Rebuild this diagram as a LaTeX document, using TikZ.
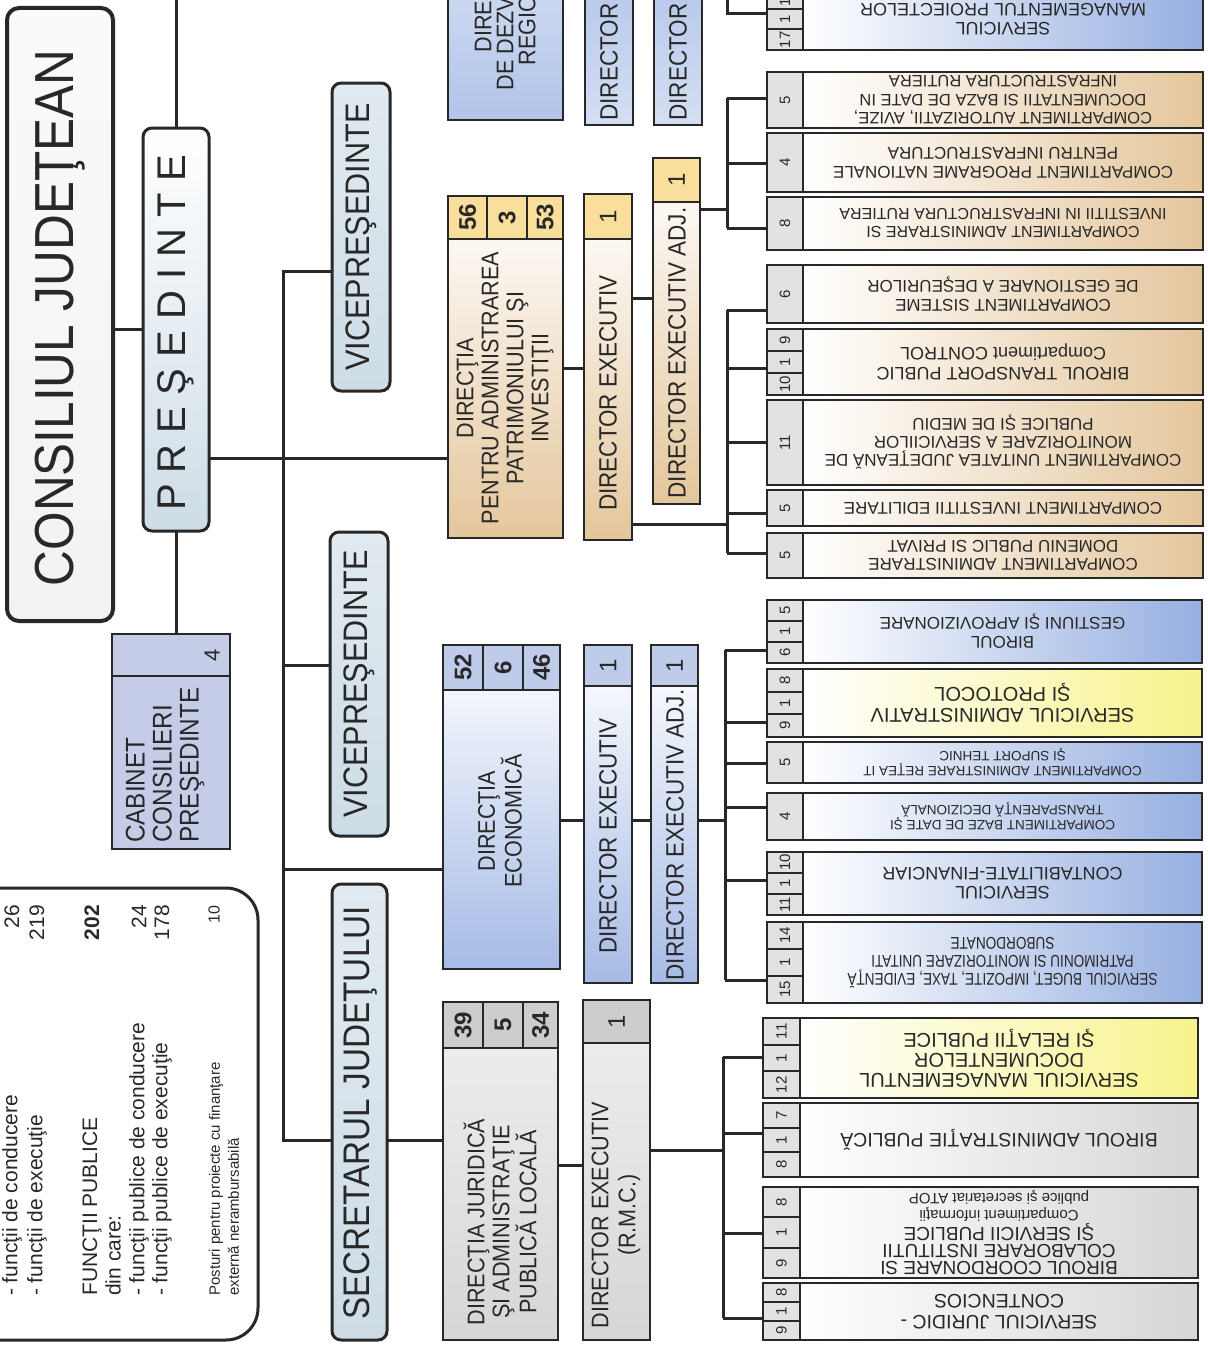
\documentclass[tikz,border=0pt]{standalone}
\usepackage{fontspec}
\setmainfont{Liberation Sans}
\newfontfamily\nar[FakeStretch=0.9]{Liberation Sans}
\newfontfamily\narr[FakeStretch=0.8]{Liberation Sans}
\pgfdeclarelayer{bg}
\pgfsetlayers{bg,main}
\definecolor{ink}{RGB}{40,40,40}
\definecolor{ctan}{RGB}{228,198,156}
\definecolor{cblue}{RGB}{150,175,225}
\definecolor{cyel}{RGB}{247,243,140}
\definecolor{cgray}{RGB}{214,214,214}
\definecolor{hyel}{RGB}{250,222,155}
\definecolor{hblue}{RGB}{190,204,234}
\definecolor{hgray}{RGB}{205,205,205}
\definecolor{ccell}{RGB}{226,226,226}
\definecolor{vblue}{RGB}{205,220,230}
\definecolor{cabb}{RGB}{196,204,232}
\newcommand\fs[2]{\fontsize{#1}{#2}\selectfont}
\newcommand\bx[6]{%
  \pgfmathsetmacro\mycx{(#2+#4)/2}\pgfmathsetmacro\mycy{(#3+#5)/2}%
  \pgfmathsetmacro\mybw{abs(#4-#2)}\pgfmathsetmacro\mybh{abs(#5-#3)}%
  \node[#6,minimum width=\mybw pt,minimum height=\mybh pt,inner sep=0pt,outer sep=0pt] (#1) at (\mycx,\mycy) {};}
% one number cell: name, y1, y2, colour, number, font, text
\newcommand\rA[7]{%
  \bx{#1}{\XD}{#2}{\XR}{#3}{sbox,left color=white,right color=#4}%
  \bx{#1c1}{\XL}{#2}{\XD}{#3}{sbox,fill=ccell}%
  \node[nlbl] (#1n1) at (#1c1.center) {#5};
  \node[ulbl,font=#6] (#1t) at (#1.center) {#7};}
% three number cells (bottom to top)
\newcommand\rC[7]{%
  \bx{#1}{\XD}{#2}{\XR}{#3}{sbox,left color=white,right color=#4}%
  \pgfmathsetmacro\mych{(#3-#2)/3}%
  \foreach \nn [count=\ii] in {#5}{%
    \pgfmathsetmacro\mya{#3-\ii*\mych}\pgfmathsetmacro\myb{#3-(\ii-1)*\mych}%
    \bx{#1c\ii}{\XL}{\mya}{\XD}{\myb}{sbox,fill=ccell}%
    \node[nlbl] (#1n\ii) at (#1c\ii.center) {\nn};}%
  \node[ulbl,font=#6] (#1t) at (#1.center) {#7};}
\begin{document}
\begin{tikzpicture}[x=1pt,y=-1pt,
  conn/.style={draw=ink,line width=3pt},
  sbox/.style={draw=ink,line width=2pt},
  rbox/.style={draw=ink,line width=3pt,rounded corners=9pt},
  lbl/.style={rotate=90,align=center,inner sep=0pt,text=ink},
  ulbl/.style={rotate=180,align=center,inner sep=0pt,text=ink},
  nlbl/.style={rotate=90,inner sep=0pt,font=\fs{15}{16},text=ink},
  hnum/.style={rotate=90,inner sep=0pt,font=\bfseries\fs{24}{26},text=ink},
  dnum/.style={rotate=90,inner sep=0pt,font=\fs{24}{26},text=ink},
  legt/.style={rotate=90,anchor=west,inner sep=0pt,align=left,text=ink,font=\fs{21}{24}},
  legn/.style={rotate=90,anchor=east,inner sep=0pt,text=ink,font=\fs{21}{24}}]
\useasboundingbox (0,0) rectangle (1207,1346);
\clip (0,0) rectangle (1207,1346);

% ---------- left part ----------
\bx{cj}{7}{8}{113}{621}{rbox,line width=4pt,rounded corners=12pt,top color=gray!4,bottom color=gray!10}
\node[lbl,font=\nar\fs{55}{60}] (cjt) at (60,318) {CONSILIUL JUDEŢEAN};
\bx{pres}{143}{128}{209}{531}{rbox,top color=white,bottom color=vblue}
\node[lbl,font=\fs{40}{44}] (prest) at (176,333) {P R E Ş E D I N T E};
\bx{cab}{112}{634}{230}{849}{sbox,fill=cabb}
\bx{cabh}{112}{634}{230}{676}{sbox,fill=cabb}
\node[lbl,font=\fs{22}{24}] (cab4) at (212,655) {4};
\node[lbl,align=left,anchor=west,font=\nar\fs{27}{27}] (cabt) at (165,843) {CABINET\\CONSILIERI\\PREŞEDINTE};

\bx{leg}{-40}{888}{258}{1340}{rbox,rounded corners=32pt,fill=white}
\node[legt] (l1) at (12,1296) {- funcţii de conducere};
\node[legt] (l2) at (37,1296) {- funcţii de execuţie};
\node[legt] (l3) at (92,1296) {FUNCŢII PUBLICE};
\node[legt] (l4) at (113,1296) {din care:};
\node[legt] (l5) at (139,1296) {- funcţii publice de conducere};
\node[legt] (l6) at (162,1296) {- funcţii publice de execuţie};
\node[legt,font=\fs{15}{19}] (l7) at (224,1296) {Posturi pentru proiecte cu finanţare\\externă nerambursabilă};
\node[legn] (n1) at (12,905) {26};
\node[legn] (n2) at (37,905) {219};
\node[legn,font=\bfseries\fs{21}{24}] (n3) at (92,905) {202};
\node[legn] (n5) at (139,905) {24};
\node[legn] (n6) at (162,905) {178};
\node[legn,font=\fs{16}{18}] (n7) at (214,905) {10};

\bx{vice1}{332}{83}{390}{391}{rbox,top color=white!40!vblue,bottom color=vblue}
\node[lbl,font=\nar\fs{34}{36}] (vice1t) at (361,237) {VICEPREŞEDINTE};
\bx{vice2}{330}{532}{388}{836}{rbox,top color=white!40!vblue,bottom color=vblue}
\node[lbl,font=\nar\fs{34}{36}] (vice2t) at (359,684) {VICEPREŞEDINTE};
\bx{sec}{332}{884}{387}{1340}{rbox,top color=white!40!vblue,bottom color=vblue}
\node[lbl,font=\nar\fs{37}{40}] (sect) at (360,1113) {SECRETARUL JUDEŢULUI};

% directions
\bx{dezv}{448}{-20}{563}{120}{sbox,top color=cblue!45,bottom color=cblue!75}
\node[lbl,font=\nar\fs{24}{22}] (dezvt) at (505,2) {DIRECŢIA\\DE DEZVOLTARE\\REGIONALĂ};
\bx{patr}{448}{196}{563}{538}{sbox,top color=white,bottom color=ctan}
\bx{patrh1}{448}{196}{487}{239}{sbox,fill=hyel}
\bx{patrh2}{487}{196}{527}{239}{sbox,fill=hyel}
\bx{patrh3}{527}{196}{563}{239}{sbox,fill=hyel}
\node[hnum] (patrn1) at (patrh1.center) {56};
\node[hnum] (patrn2) at (patrh2.center) {3};
\node[hnum] (patrn3) at (patrh3.center) {53};
\node[lbl,font=\nar\fs{24}{25}] (patrt) at (505,388) {DIRECŢIA\\PENTRU ADMINISTRAREA\\PATRIMONIULUI ŞI\\INVESTIŢII};

\bx{econ}{443}{645}{560}{969}{sbox,top color=white,bottom color=cblue!85}
\bx{econh1}{443}{645}{483}{690}{sbox,fill=hblue}
\bx{econh2}{483}{645}{523}{690}{sbox,fill=hblue}
\bx{econh3}{523}{645}{560}{690}{sbox,fill=hblue}
\node[hnum] (econn1) at (econh1.center) {52};
\node[hnum] (econn2) at (econh2.center) {6};
\node[hnum] (econn3) at (econh3.center) {46};
\node[lbl,font=\nar\fs{24}{25}] (econt) at (500,821) {DIRECŢIA\\ECONOMICĂ};

\bx{dj}{443}{1002}{558}{1340}{sbox,top color=gray!12,bottom color=gray!32}
\bx{djh1}{443}{1002}{483}{1048}{sbox,fill=hgray}
\bx{djh2}{483}{1002}{523}{1048}{sbox,fill=hgray}
\bx{djh3}{523}{1002}{558}{1048}{sbox,fill=hgray}
\node[hnum] (djn1) at (djh1.center) {39};
\node[hnum] (djn2) at (djh2.center) {5};
\node[hnum] (djn3) at (djh3.center) {34};
\node[lbl,font=\nar\fs{24}{25}] (djt) at (500,1222) {DIRECŢIA JURIDICĂ\\ŞI ADMINISTRAŢIE\\PUBLICĂ LOCALĂ};

% directors
\bx{dirA}{585}{-20}{633}{125}{sbox,top color=cblue!70,bottom color=cblue!40}
\node[lbl,font=\nar\fs{25}{27}] (dirAt) at (609,62) {DIRECTOR};
\bx{dirB}{654}{-20}{702}{125}{sbox,top color=cblue!70,bottom color=cblue!40}
\node[lbl,font=\nar\fs{25}{27}] (dirBt) at (678,62) {DIRECTOR};

\bx{de1}{584}{194}{632}{540}{sbox,top color=white,bottom color=ctan}
\bx{de1h}{584}{194}{632}{239}{sbox,fill=hyel}
\node[dnum] (de1n) at (de1h.center) {1};
\node[lbl,font=\nar\fs{25}{27}] (de1t) at (608,393) {DIRECTOR EXECUTIV};
\bx{adj1}{653}{158}{700}{504}{sbox,top color=white,bottom color=ctan}
\bx{adj1h}{653}{158}{700}{202}{sbox,fill=hyel}
\node[dnum] (adj1n) at (adj1h.center) {1};
\node[lbl,font=\nar\fs{25}{27}] (adj1t) at (677,353) {DIRECTOR EXECUTIV ADJ.};

\bx{de2}{584}{645}{632}{983}{sbox,top color=white,bottom color=cblue!85}
\bx{de2h}{584}{645}{632}{686}{sbox,fill=hblue}
\node[dnum] (de2n) at (de2h.center) {1};
\node[lbl,font=\nar\fs{25}{27}] (de2t) at (608,836) {DIRECTOR EXECUTIV};
\bx{adj2}{651}{645}{698}{983}{sbox,top color=white,bottom color=cblue!85}
\bx{adj2h}{651}{645}{698}{686}{sbox,fill=hblue}
\node[dnum] (adj2n) at (adj2h.center) {1};
\node[lbl,font=\nar\fs{25}{27}] (adj2t) at (675,835) {DIRECTOR EXECUTIV ADJ.};

\bx{de3}{583}{1000}{650}{1340}{sbox,top color=gray!12,bottom color=gray!32}
\bx{de3h}{583}{1000}{650}{1043}{sbox,fill=hgray}
\node[dnum] (de3n) at (de3h.center) {1};
\node[lbl,font=\nar\fs{24}{27}] (de3t) at (616,1215) {DIRECTOR EXECUTIV\\(R.M.C.)};

% ---------- right column ----------
\def\XL{767}\def\XD{803}\def\XR{1203}
\rC{s0}{-12}{50}{cblue}{17,1,16}{\fs{18}{19}}{SERVICIUL\\MANAGEMENTUL PROIECTELOR}
\rA{sA}{72}{128}{ctan}{5}{\fs{16.5}{18.5}}{COMPARTIMENT AUTORIZATII, AVIZE,\\DOCUMENTATII SI BAZA DE DATE IN\\INFRASTRUCTURA RUTIERA}
\rA{sB}{133}{192}{ctan}{4}{\fs{17}{19}}{COMPARTIMENT PROGRAME NATIONALE\\PENTRU INFRASTRUCTURA}
\rA{sC}{197}{250}{ctan}{8}{\fs{16}{18}}{COMPARTIMENT ADMINISTRARE SI\\INVESTITII IN INFRASTRUCTURA RUTIERA}
\rA{sD}{265}{323}{ctan}{6}{\fs{17}{19}}{COMPARTIMENT SISTEME\\DE GESTIONARE A DEŞEURILOR}
\rC{sE}{329}{395}{ctan}{10,1,9}{\fs{18}{20}}{BIROUL TRANSPORT PUBLIC\\Compartiment CONTROL}
\rA{sF}{400}{485}{ctan}{11}{\fs{17}{18}}{COMPARTIMENT UNITATEA JUDEŢEANĂ DE\\MONITORIZARE A SERVICIILOR\\PUBLICE ŞI DE MEDIU}
\rA{sG}{490}{526}{ctan}{5}{\fs{17}{19}}{COMPARTIMENT INVESTITII EDILITARE}
\rA{sH}{533}{578}{ctan}{5}{\fs{17}{18}}{COMPARTIMENT ADMINISTRARE\\DOMENIU PUBLIC SI PRIVAT}
\def\XL{767}\def\XD{803}\def\XR{1202}
\rC{sI}{600}{663}{cblue}{6,1,5}{\fs{17}{19}}{BIROUL\\GESTIUNI ŞI APROVIZIONARE}
\rC{sJ}{669}{737}{cyel}{9,1,8}{\fs{20}{21}}{SERVICIUL ADMINISTRATIV\\ŞI PROTOCOL}
\rA{sK}{742}{783}{cblue}{5}{\fs{13.5}{15}}{COMPARTIMENT ADMINISTRARE REŢEA IT\\ŞI SUPORT TEHNIC}
\rA{sL}{793}{840}{cblue}{4}{\fs{13.5}{15}}{COMPARTIMENT BAZE DE DATE ŞI\\TRANSPARENŢĂ DECIZIONALĂ}
\rC{sM}{852}{915}{cblue}{11,1,10}{\fs{18}{19}}{SERVICIUL\\CONTABILITATE-FINANCIAR}
\rC{sN}{922}{1003}{cblue}{15,1,14}{\narr\fs{17}{18}}{SERVICIUL BUGET, IMPOZITE, TAXE, EVIDENŢĂ\\PATRIMONIU SI MONITORIZARE UNITATI\\SUBORDONATE}
\def\XL{763}\def\XD{800}\def\XR{1198}
\rC{sO}{1018}{1098}{cyel}{12,1,11}{\fs{20}{20}}{SERVICIUL MANAGEMENTUL\\DOCUMENTELOR\\ŞI RELAŢII PUBLICE}
\rC{sP}{1103}{1177}{cgray}{8,1,7}{\fs{19.5}{21}}{BIROUL ADMINISTRAŢIE PUBLICĂ}
\rC{sQ}{1187}{1278}{cgray}{9,1,8}{\fs{19}{17}}{BIROUL COORDONARE SI\\COLABORARE INSTITUTII\\ŞI SERVICII PUBLICE\\{\fs{15}{15}Compartiment informaţii}\\{\fs{15}{15}publice şi secretariat ATOP}}
\rC{sR}{1283}{1340}{cgray}{9,1,8}{\fs{19.5}{21}}{SERVICIUL JURIDIC -\\CONTENCIOS}

% ---------- connectors ----------
\begin{pgfonlayer}{bg}
\draw[conn] (cj.east |- pres.west) -- (pres.west);
\coordinate (ptop) at (176,-5);
\draw[conn] (pres.north) -- (ptop);
\draw[conn] (pres.south) -- (pres.south |- cab.north);
\coordinate (yP) at (0,458);
\draw[conn] (pres.east |- yP) -- (patr.west |- yP);
\coordinate (busT) at (283,271);
\coordinate (busB) at (283,1140);
\draw[conn] (vice1.west |- busT) -- (busT) -- (busB) -- (sec.west |- busB);
\coordinate (yV) at (283,665);
\draw[conn] (yV) -- (yV -| vice2.west);
\coordinate (yE) at (283,869);
\draw[conn] (yE) -- (yE -| econ.west);
\draw[conn] (sec.east |- busB) -- (dj.west |- busB);
\coordinate (y1) at (0,368);
\draw[conn] (patr.east |- y1) -- (de1.west |- y1);
\coordinate (y2) at (0,298);
\draw[conn] (de1.east |- y2) -- (adj1.west |- y2);
% group 0 (partial)
\coordinate (t0top) at (727,-5);
\coordinate (t0) at (727,14);
\draw[conn] (t0top) -- (t0) -- (t0 -| s0c1.west);
% group 1
\coordinate (tA) at (727,98);
\coordinate (tB) at (727,163);
\coordinate (tC) at (727,228);
\coordinate (j1) at (727,209);
\draw[conn] (adj1.east |- j1) -- (j1);
\draw[conn] (tA) -- (tC);
\draw[conn] (tA) -- (tA -| sAc1.west);
\draw[conn] (tB) -- (tB -| sBc1.west);
\draw[conn] (tC) -- (tC -| sCc1.west);
% group 2
\coordinate (tD) at (727,310);
\coordinate (tE) at (727,368);
\coordinate (tF) at (727,442);
\coordinate (tG) at (727,513);
\coordinate (tH) at (727,553);
\coordinate (j2) at (727,524);
\draw[conn] (de1.east |- j2) -- (j2);
\draw[conn] (tD) -- (tH);
\foreach \bb in {D,E,F,G,H}{\draw[conn] (t\bb) -- (t\bb -| s\bb c1.west);}
% group 3
\coordinate (yE2) at (0,820);
\draw[conn] (econ.east |- yE2) -- (de2.west |- yE2);
\draw[conn] (de2.east |- yE2) -- (adj2.west |- yE2);
\coordinate (tI) at (725,650);
\coordinate (tJ) at (725,722);
\coordinate (tK) at (725,763);
\coordinate (tL) at (725,807);
\coordinate (tM) at (725,880);
\coordinate (tN) at (725,980);
\coordinate (j3) at (725,820);
\draw[conn] (adj2.east |- j3) -- (j3);
\draw[conn] (tI) -- (tN);
\foreach \bb in {I,J,K,L,M,N}{\draw[conn] (t\bb) -- (t\bb -| s\bb c1.west);}
% group 4
\coordinate (yD3) at (0,1165);
\draw[conn] (dj.east |- yD3) -- (de3.west |- yD3);
\coordinate (tO) at (723,1057);
\coordinate (tP) at (723,1133);
\coordinate (tQ) at (723,1233);
\coordinate (tR) at (723,1318);
\coordinate (j4) at (723,1150);
\draw[conn] (de3.east |- j4) -- (j4);
\draw[conn] (tO) -- (tR);
\foreach \bb in {O,P,Q,R}{\draw[conn] (t\bb) -- (t\bb -| s\bb c1.west);}
\end{pgfonlayer}
\end{tikzpicture}
\end{document}
